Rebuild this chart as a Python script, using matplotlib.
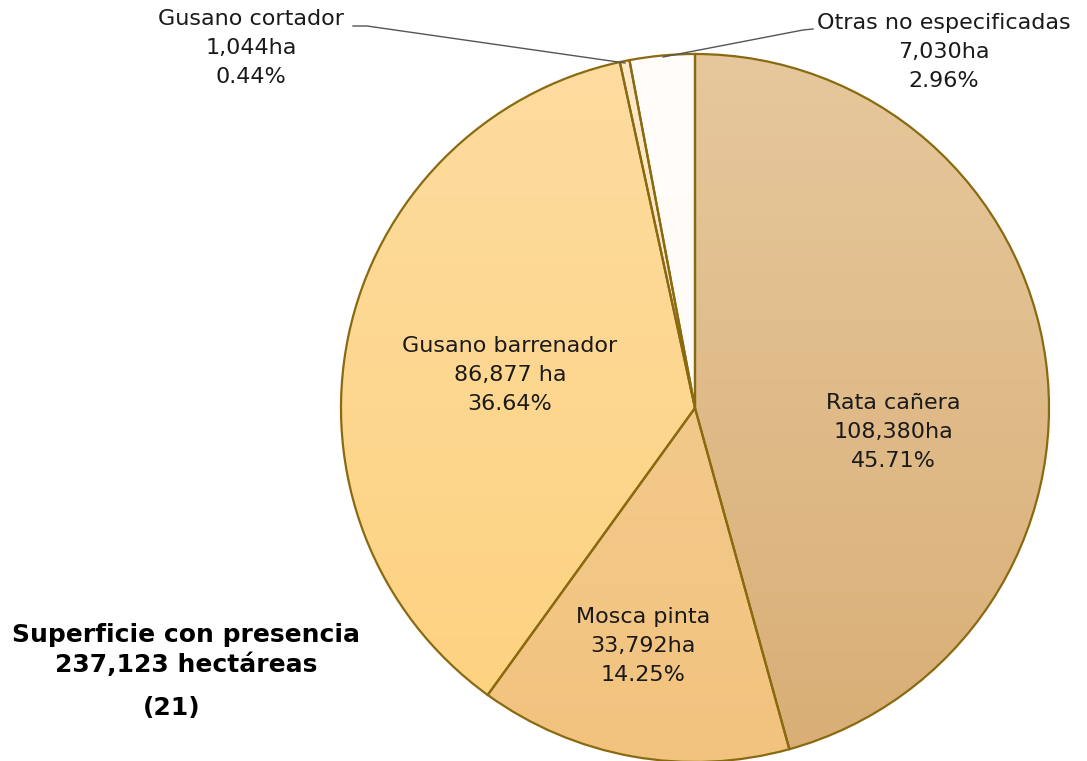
import numpy as np
import matplotlib.pyplot as plt
from matplotlib.colors import LinearSegmentedColormap

# Data
labels = ['Rata cañera', 'Mosca pinta', 'Gusano barrenador', 'Gusano cortador', 'Otras no especificadas']
hectares = [108380, 33792, 86877, 1044, 7030]
ha_text = ['108,380ha', '33,792ha', '86,877 ha', '1,044ha', '7,030ha']
pct_text = ['45.71%', '14.25%', '36.64%', '0.44%', '2.96%']
total_text = 'Superficie con presencia\n237,123 hectáreas'
note_text = '(21)'

# top / bottom colours of each wedge gradient
grad = [('#e6c89c', '#d9ae76'),
        ('#f4cf98', '#f2c37e'),
        ('#fedca0', '#fdd27e'),
        ('#fee8c8', '#fde2b8'),
        ('#fffdfa', '#fffbf5')]
edge = '#8a6a10'

plt.rcParams['font.family'] = ['DejaVu Sans']

W, H = 1087, 761
fig = plt.figure(figsize=(W / 100, H / 100), dpi=100)

cx, cy, R = 695, 408, 354
ax = fig.add_axes([(cx - R) / W, (H - cy - R) / H, 2 * R / W, 2 * R / H])

wedges, _ = ax.pie(hectares, startangle=90, counterclock=False, radius=1,
                   wedgeprops=dict(edgecolor=edge, linewidth=1.6, facecolor='none'))
ax.set_xlim(-1, 1)
ax.set_ylim(-1, 1)
ax.set_aspect('equal')
ax.axis('off')

g = np.linspace(0, 1, 256).reshape(-1, 1)
for w, (top, bot) in zip(wedges, grad):
    cmap = LinearSegmentedColormap.from_list('g', [top, bot])
    im = ax.imshow(g, cmap=cmap, extent=(-1, 1, -1, 1), aspect='auto', zorder=0.5)
    im.set_clip_path(w)
    w.set_zorder(1)


def px(x, y):
    return x / W, 1 - y / H


fs = 16
ls = 1.55
inside_pos = {0: (893, 432), 1: (643, 646), 2: (510, 375)}
for i, (x, y) in inside_pos.items():
    fig.text(*px(x, y), f'{labels[i]}\n{ha_text[i]}\n{pct_text[i]}', ha='center', va='center',
             fontsize=fs, color='#1a1a1a', linespacing=ls)

fig.text(*px(251, 48), f'{labels[3]}\n{ha_text[3]}\n{pct_text[3]}', ha='center', va='center',
         fontsize=fs, color='#1a1a1a', linespacing=ls)
fig.text(*px(944, 52), f'{labels[4]}\n{ha_text[4]}\n{pct_text[4]}', ha='center', va='center',
         fontsize=fs, color='#1a1a1a', linespacing=ls)

# leader lines
line_kw = dict(color='#555555', linewidth=1.0, transform=fig.transFigure)
xs, ys = zip(px(353, 26), px(367, 26), px(625, 63))
fig.add_artist(plt.Line2D(xs, ys, **line_kw))
xs, ys = zip(px(813, 29), px(803, 30), px(663, 57))
fig.add_artist(plt.Line2D(xs, ys, **line_kw))

fig.text(*px(186, 650), total_text, ha='center', va='center', fontsize=18,
         fontweight='bold', color='black', linespacing=1.25)
fig.text(*px(172, 708), note_text, ha='center', va='center', fontsize=18,
         fontweight='bold', color='black')

fig.savefig('out.png', dpi=100)
